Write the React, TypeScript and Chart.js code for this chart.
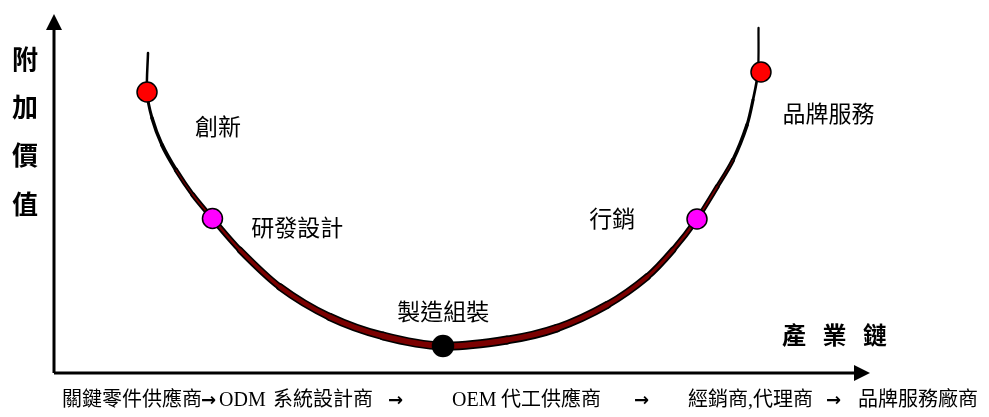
import { useEffect, useRef } from "react";
import { Chart, registerables } from "chart.js";

Chart.register(...registerables);

// Smile curve (value chain position vs. value added), in 0..100 units
const curveX = [11.52, 11.4, 12.01, 13.24, 14.95, 17.03, 19.36, 22.79, 27.7, 33.82, 40.32, 47.67, 55.51, 61.64, 67.77, 72.67, 75.86, 78.8, 81.25, 83.21, 84.93, 85.66, 86.27, 86.34];
const curveY = [89.14, 78.27, 71.03, 63.51, 56.55, 49.58, 43.18, 34.26, 23.96, 15.6, 10.31, 7.52, 9.19, 12.53, 18.94, 26.74, 34.26, 42.9, 51.81, 59.33, 69.08, 76.04, 83.84, 96.1];

// Stage markers on the curve
const stageNames = ["創新", "研發設計", "製造組裝", "行銷", "品牌服務"];
const markerX = [11.4, 19.42, 47.67, 78.8, 86.64];
const markerY = [78.27, 43.04, 7.52, 42.9, 83.84];

// Stage label anchors
const labelX = [20.1, 29.8, 47.7, 68.4, 94.9];
const labelY = [68.8, 40.7, 17.3, 43.2, 72.4];

const yTitleChars = ["附", "加", "價", "值"];
const xTitleChars = ["產", "業", "鏈"];
const chainSegments = [
  "關鍵零件供應商", "→", "ODM", "系統設計商", "→", "OEM", "代工供應商", "→", "經銷商,代理商", "→", "品牌服務廠商",
];

const MARKER_COLORS = ["#ff0000", "#ff00ff", "#000000", "#ff00ff", "#ff0000"];
const CHAIN_X = [62, 201, 219, 273, 388, 452, 501, 634, 688, 826, 858];

const outerWidth = (y: number) => 2 + 8 * Math.pow(Math.max(0, 1 - y / 100), 1.5);
const innerWidth = (y: number) => outerWidth(y) - 3.5;

const overlay = {
  id: "overlay",
  afterDatasetsDraw(chart: any) {
    const { ctx, chartArea, scales } = chart;
    const { left, right, top, bottom } = chartArea;
    ctx.save();
    // axes
    ctx.strokeStyle = "#000";
    ctx.fillStyle = "#000";
    ctx.lineWidth = 3;
    ctx.beginPath();
    ctx.moveTo(left, bottom);
    ctx.lineTo(left, top + 14);
    ctx.moveTo(left, bottom);
    ctx.lineTo(right - 14, bottom);
    ctx.stroke();
    ctx.beginPath();
    ctx.moveTo(left, top);
    ctx.lineTo(left - 8, top + 16);
    ctx.lineTo(left + 8, top + 16);
    ctx.closePath();
    ctx.fill();
    ctx.beginPath();
    ctx.moveTo(right, bottom);
    ctx.lineTo(right - 16, bottom - 8);
    ctx.lineTo(right - 16, bottom + 8);
    ctx.closePath();
    ctx.fill();

    // stage labels
    ctx.textAlign = "center";
    ctx.textBaseline = "middle";
    ctx.font = '23px "Noto Sans CJK TC", sans-serif';
    stageNames.forEach((t, i) => {
      ctx.fillText(t, scales.x.getPixelForValue(labelX[i]), scales.y.getPixelForValue(labelY[i]));
    });

    // y title (vertical)
    ctx.font = 'bold 26px "Noto Sans CJK TC", sans-serif';
    yTitleChars.forEach((c, i) => {
      ctx.fillText(c, left - 29, top + 45 + i * 48.3);
    });

    // x title
    ctx.font = 'bold 24px "Noto Sans CJK TC", sans-serif';
    xTitleChars.forEach((c, i) => {
      ctx.fillText(c, right - 76 + i * 40.5, bottom - 38);
    });

    // value chain
    ctx.textAlign = "left";
    chainSegments.forEach((t, i) => {
      if (t === "→") ctx.font = 'bold 18px "DejaVu Sans", sans-serif';
      else ctx.font = '20px "Liberation Serif", "Noto Sans CJK TC", serif';
      ctx.fillText(t, CHAIN_X[i], 401);
    });
    ctx.restore();
  },
};

export default function App() {
  const ref = useRef<HTMLCanvasElement | null>(null);
  useEffect(() => {
    document.body.style.margin = "0";
    const curve = curveX.map((x, i) => ({ x, y: curveY[i] }));
    const markers = markerX.map((x, i) => ({ x, y: markerY[i] }));
    const segY = (c: any) => (curveY[c.p0DataIndex] + curveY[c.p1DataIndex]) / 2;
    const chart = new Chart(ref.current as HTMLCanvasElement, {
      type: "scatter",
      data: {
        datasets: [
          {
            type: "scatter",
            data: markers,
            order: 0,
            pointRadius: markers.map((_, i) => (i === 2 ? 10.5 : 10)),
            pointBackgroundColor: MARKER_COLORS,
            pointBorderColor: "#000",
            pointBorderWidth: 1.5,
            showLine: false,
            clip: false,
          } as any,
          {
            type: "line",
            data: curve,
            order: 1,
            borderColor: "#7b0000",
            borderWidth: 4,
            borderCapStyle: "round",
            tension: 0.3,
            pointRadius: 0,
            fill: false,
            clip: false,
            segment: {
              borderWidth: (c: any) => Math.max(0.5, innerWidth(segY(c))),
              borderColor: (c: any) => (innerWidth(segY(c)) < 0.6 ? "rgba(0,0,0,0)" : "#7b0000"),
            },
          } as any,
          {
            type: "line",
            data: curve,
            order: 2,
            borderColor: "#000",
            borderWidth: 4,
            borderCapStyle: "round",
            tension: 0.3,
            pointRadius: 0,
            fill: false,
            clip: false,
            segment: {
              borderWidth: (c: any) => outerWidth(segY(c)),
            },
          } as any,
        ],
      },
      options: {
        responsive: false,
        animation: false,
        devicePixelRatio: 1,
        layout: { padding: { left: 54, right: 119, top: 14, bottom: 44 } },
        scales: {
          x: { type: "linear", min: 0, max: 100, display: false },
          y: { type: "linear", min: 0, max: 100, display: false },
        },
        plugins: { legend: { display: false }, tooltip: { enabled: false } },
      },
      plugins: [overlay],
    });
    return () => chart.destroy();
  }, []);
  return (
    <div style={{ position: "absolute", left: 0, top: 0, width: 989, height: 417, background: "#fff" }}>
      <canvas ref={ref} width={989} height={417} />
    </div>
  );
}
